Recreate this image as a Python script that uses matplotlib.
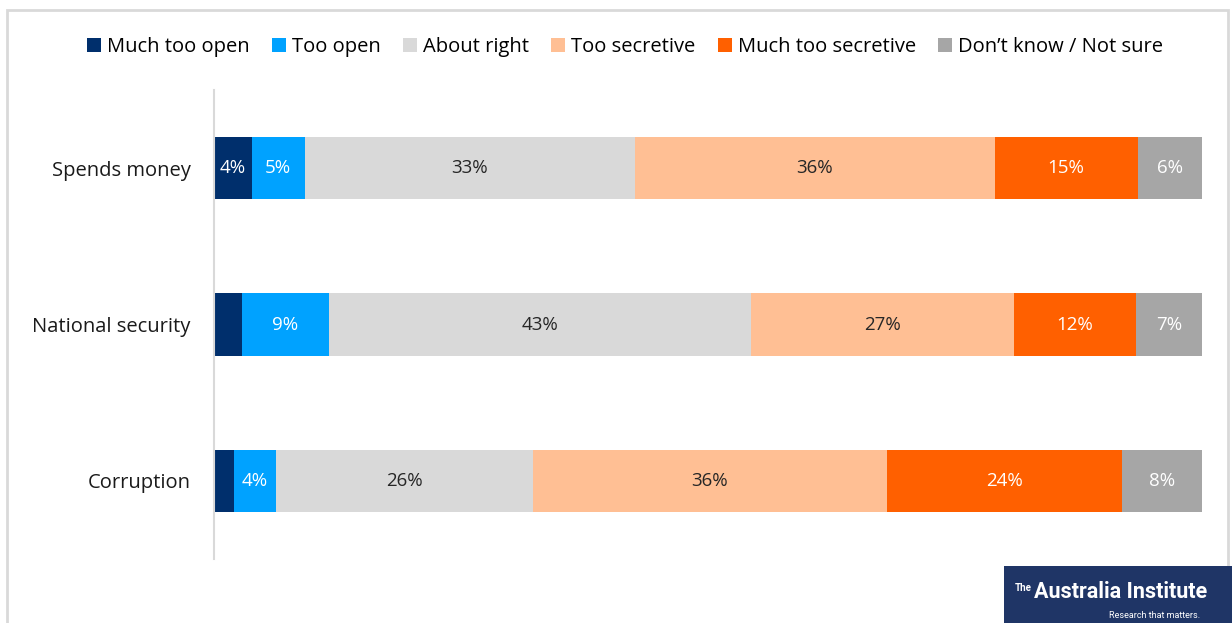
import matplotlib.pyplot as plt
from matplotlib.patches import Rectangle

categories = ['Spends money', 'National security', 'Corruption']
series = ['Much too open', 'Too open', 'About right', 'Too secretive',
          'Much too secretive', 'Don\u2019t know / Not sure']
much_too_open = [3.8, 2.8, 2.0]
too_open = [5.4, 8.8, 4.3]
about_right = [33.4, 42.8, 26.0]
too_secretive = [36.4, 26.6, 35.8]
much_too_secretive = [14.5, 12.3, 23.8]
dont_know = [6.5, 6.7, 8.1]
labels = [['4%', '', ''], ['5%', '9%', '4%'], ['33%', '43%', '26%'],
          ['36%', '27%', '36%'], ['15%', '12%', '24%'], ['6%', '7%', '8%']]

colors = ['#002f6c', '#00a2ff', '#d9d9d9', '#ffbf94', '#ff6000', '#a6a6a6']
text_colors = ['white', 'white', '#262626', '#262626', 'white', 'white']

plt.rcParams['font.family'] = ['Open Sans', 'DejaVu Sans']

fig = plt.figure(figsize=(12.32, 6.23), dpi=100)
ax = fig.add_axes([214 / 1232, 1 - 559 / 623, 988 / 1232, 469 / 623])

values = [much_too_open, too_open, about_right, too_secretive,
          much_too_secretive, dont_know]
ypos = list(range(len(categories)))
left = [0.0] * len(categories)
for i, vals in enumerate(values):
    bars = ax.barh(ypos, vals, left=left, height=0.4, color=colors[i],
                   label=series[i], linewidth=0)
    for j, b in enumerate(bars):
        if labels[i][j]:
            ax.text(b.get_x() + b.get_width() / 2, b.get_y() + b.get_height() / 2,
                    labels[i][j], ha='center', va='center', fontsize=13.5,
                    color=text_colors[i])
    left = [l + v for l, v in zip(left, vals)]

ax.set_xlim(0, 100)
ax.set_ylim(2.5, -0.5)
ax.set_yticks(ypos)
ax.set_yticklabels(categories, fontsize=14.5, color='#1a1a1a')
ax.tick_params(axis='y', length=0, pad=17)
ax.set_xticks([])
for s in ['top', 'right', 'bottom']:
    ax.spines[s].set_visible(False)
ax.spines['left'].set_color('#d9d9d9')
ax.spines['left'].set_linewidth(1.5)

fig.legend(loc='center', bbox_to_anchor=(625 / 1232, 1 - 47 / 623), ncol=6,
           frameon=False, fontsize=14.5, handlelength=0.7, handleheight=0.7,
           handletextpad=0.3, columnspacing=1.1)

# chart border
fig.patches.append(Rectangle((7 / 1232, -0.05), 1221 / 1232, 1.05 - 10 / 623,
                             transform=fig.transFigure, fill=False,
                             edgecolor='#d9d9d9', linewidth=2))

# logo
fig.patches.append(Rectangle((1004 / 1232, 0), 228 / 1232, 57 / 623,
                             transform=fig.transFigure, facecolor='#1f3566',
                             edgecolor='none'))
fig.text(1015 / 1232, 1 - 588 / 623, 'The', color='white', fontsize=7,
         fontweight='bold', va='center', ha='left', family='Roboto')
fig.text(1034 / 1232, 1 - 592 / 623, 'Australia Institute', color='white',
         fontsize=15.5, fontweight='bold', va='center', ha='left',
         family='Roboto')
fig.text(1200 / 1232, 1 - 616 / 623, 'Research that matters.', color='white',
         fontsize=6.5, va='center', ha='right', family='Roboto')

fig.savefig('out.png', dpi=100)
